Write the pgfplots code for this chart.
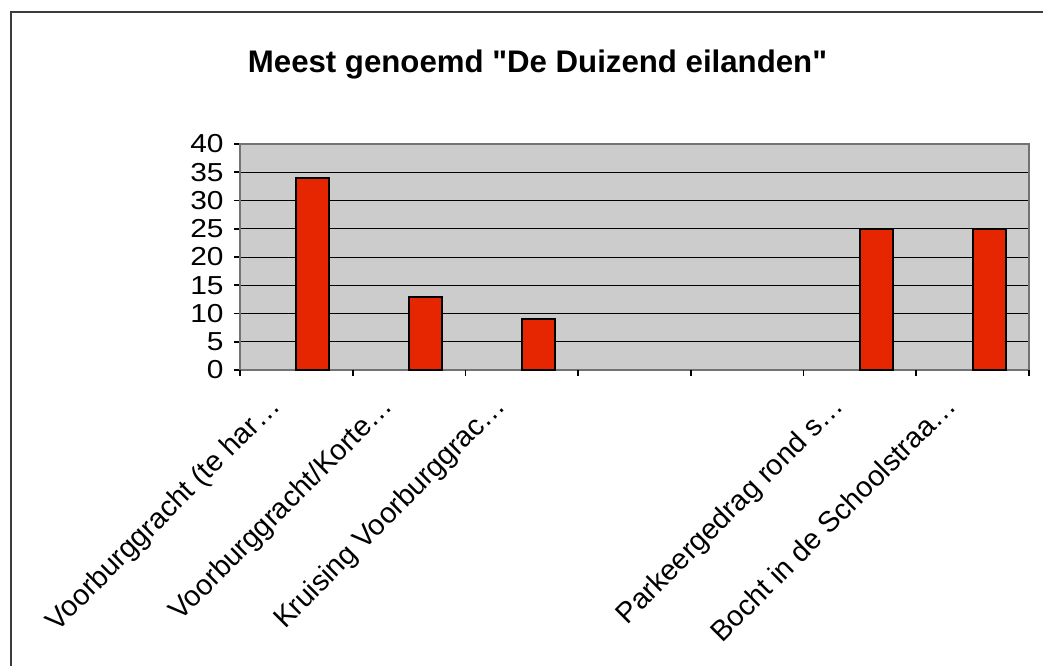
\documentclass[border=0pt]{standalone}
\usepackage{pgfplots}
\pgfplotsset{compat=1.18}
\usepackage{fontspec}
\setmainfont{Liberation Sans}
\newfontfamily\titlefont{Liberation Sans}[Ligatures=TeXOff]

\definecolor{barred}{RGB}{230,38,0}
\definecolor{plotgrey}{RGB}{204,204,204}
\definecolor{framegrey}{RGB}{60,60,60}

\begin{document}
\begin{tikzpicture}
% picture is 1043 x 666 px at 0.5pt per px
\path[use as bounding box] (0,0) rectangle (521.5pt,333pt);
\draw[framegrey, line width=1pt] (5.5pt,0) -- (5.5pt,327pt) -- (521.5pt,327pt);
\node[anchor=base, font=\titlefont\fontsize{15.6}{18}\selectfont\bfseries]
  at (268.75pt,297pt) {Meest genoemd "De Duizend eilanden"};
\begin{axis}[
    at={(120pt,148pt)}, anchor=south west,
    scale only axis,
    width=394.5pt, height=113pt,
    xmin=0.5, xmax=7.5,
    ymin=0, ymax=40,
    ytick={0,5,...,40},
    xtick={1,...,7},
    xticklabels={Voorburggracht (te har…,Voorburggracht/Korte…,Kruising Voorburggrac…,,,Parkeergedrag rond s…,Bocht in de Schoolstraa…},
    xtick pos=bottom, ytick pos=left,
    x tick style={draw=none},
    extra x ticks={0.5,1.5,...,7.5},
    extra x tick labels={},
    extra x tick style={x tick style={draw=black, line width=0.8pt}, major tick length=3pt, tick align=outside, xtick pos=bottom},
    y tick style={black, line width=0.8pt},
    major tick length=3pt,
    tick align=outside,
    ymajorgrids,
    grid style={black, line width=0.5pt},
    axis background/.style={fill=plotgrey},
    axis line style={black!55, line width=1pt},
    /pgf/number format/assume math mode=true,
    yticklabel style={font=\fontsize{13}{15}\selectfont, xscale=1.15, xshift=-1pt},
    xticklabel style={rotate=45, anchor=base east, font=\fontsize{14.4}{16}\selectfont, xshift=-13pt, yshift=-6pt},
    ybar, bar width=16.5pt, bar shift=8.25pt,
]
\addplot[fill=barred, draw=black, line width=1pt] coordinates {
(1,34) (2,13) (3,9) (6,25) (7,25)
};
\end{axis}
\end{tikzpicture}
\end{document}
